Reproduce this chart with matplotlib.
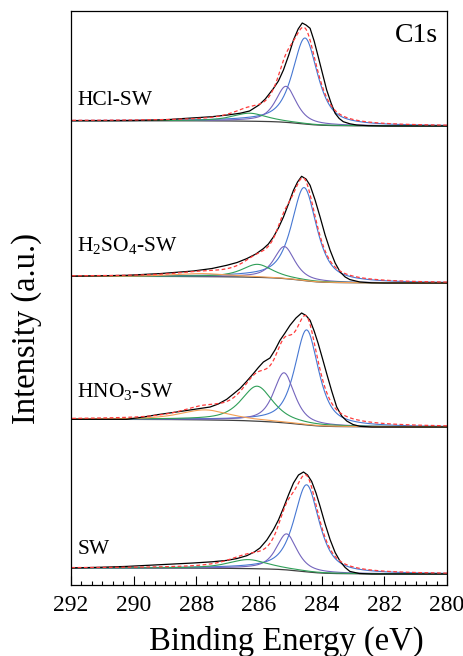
import numpy as np
import matplotlib
matplotlib.use('Agg')
import matplotlib.pyplot as plt
from matplotlib.ticker import MultipleLocator

plt.rcParams['font.family'] = ['Liberation Serif', 'DejaVu Serif']
plt.rcParams['mathtext.fontset'] = 'custom'
plt.rcParams['mathtext.rm'] = 'Liberation Serif'

#=============================================================
# C1s spectra (measured), intensity above the low-BE baseline
hcl_be = [292.0, 291.0, 290.0, 289.0, 288.5, 288.0, 287.5, 287.0, 286.6, 286.3,
          286.0, 285.8, 285.54, 285.38, 285.22, 285.05, 284.9, 284.75, 284.62, 284.5,
          284.37, 284.24, 284.11, 283.97, 283.84, 283.7, 283.57, 283.44, 283.31, 283.1,
          282.88, 282.5, 282.0, 281.0, 280.0]
hcl_counts = [5.3, 5.3, 5.5, 6.2, 7.3, 8.3, 9.3, 11.0, 12.8, 15.0,
              21.0, 27.0, 37.5, 45.0, 56.0, 71.0, 86.0, 97.0, 103.0, 101.0,
              97.7, 85.0, 69.3, 52.0, 36.0, 23.0, 12.7, 7.5, 4.3, 2.2,
              1.0, 0.3, 0.0, 0.0, 0.0]

h2so4_be = [292.0, 291.0, 290.22, 289.16, 288.1, 287.5, 287.03, 286.7, 286.39, 286.1,
            285.86, 285.7, 285.54, 285.38, 285.22, 285.06, 284.9, 284.77, 284.64, 284.5,
            284.37, 284.21, 284.05, 283.89, 283.73, 283.57, 283.41, 283.25, 283.1, 282.78,
            282.4, 282.0, 281.0, 280.0]
h2so4_counts = [6.7, 7.2, 7.7, 9.4, 12.0, 14.5, 17.7, 20.5, 24.4, 29.0,
                34.4, 39.0, 46.0, 55.0, 66.0, 79.0, 92.7, 101.0, 106.7, 104.0,
                97.7, 83.0, 66.0, 48.0, 32.7, 20.0, 11.0, 6.0, 3.4, 1.0,
                0.2, 0.0, 0.0, 0.0]

hno3_be = [292.0, 291.0, 290.22, 289.69, 289.2, 288.63, 288.1, 287.56, 287.3, 287.03,
           286.82, 286.61, 286.4, 286.18, 286.02, 285.86, 285.65, 285.49, 285.33, 285.17,
           285.01, 284.82, 284.64, 284.5, 284.37, 284.24, 284.11, 283.97, 283.84, 283.68,
           283.52, 283.36, 283.2, 283.0, 282.78, 282.4, 281.0, 280.0]
hno3_counts = [7.7, 7.7, 7.7, 10.0, 12.5, 15.0, 17.5, 20.0, 23.0, 27.7,
               33.0, 38.4, 45.5, 53.4, 59.5, 65.0, 69.0, 77.0, 86.7, 94.0,
               101.7, 109.0, 114.0, 111.5, 106.7, 96.0, 83.4, 68.0, 53.4, 36.0,
               20.0, 11.0, 6.0, 2.5, 0.7, 0.0, 0.0, 0.0]

sw_be = [292.0, 291.0, 290.22, 289.16, 288.1, 287.5, 287.03, 286.7, 286.39, 286.15,
         285.97, 285.75, 285.54, 285.38, 285.22, 285.06, 284.9, 284.74, 284.58, 284.45,
         284.32, 284.18, 284.05, 283.89, 283.73, 283.57, 283.41, 283.25, 283.1, 282.8,
         282.4, 281.0, 280.0]
sw_counts = [6.0, 6.8, 7.6, 9.3, 11.0, 12.2, 13.6, 15.5, 18.3, 22.0,
             26.0, 34.0, 44.3, 54.0, 66.0, 79.0, 91.0, 99.0, 102.0, 99.0,
             92.6, 81.0, 67.6, 50.0, 34.3, 21.5, 12.6, 6.5, 2.6, 0.5,
             0.0, 0.0, 0.0]

# fitted components: sp2 C=C, sp3 C-C, C-O, C=O
hcl_pos = [284.53, 285.14, 286.30]
hcl_fwhm = [0.95, 0.78, 1.30]
hcl_height = [86, 36, 8]

h2so4_pos = [284.56, 285.19, 286.05, 287.80]
h2so4_fwhm = [0.95, 0.78, 1.15, 2.00]
h2so4_height = [93, 32, 13, 3]

hno3_pos = [284.48, 285.20, 286.06, 287.72]
hno3_fwhm = [0.90, 0.80, 1.20, 1.90]
hno3_height = [95, 50, 35, 10]

sw_pos = [284.48, 285.12, 286.34]
sw_fwhm = [0.95, 0.78, 1.50]
sw_height = [87, 36, 9]

# Shirley background step (high-BE side), vertical offsets of the stack
bg_step = [5.3, 6.7, 7.7, 6.0]
offsets = [459, 302, 158, 11]
labels = ['HCl-SW', r'H$_\mathregular{2}$SO$_\mathregular{4}$-SW',
          r'HNO$_\mathregular{3}$-SW', 'SW']
label_y = [16, 26, 24, 15]
eta = 0.7   # lorentzian fraction

peak_colors = ['#4677d2', '#7465bd', '#2f9f58', '#f4a055']

#=============================================================
def pvoigt(x, c, w, h, eta):
    """pseudo-Voigt: centro c, FWHM w, altura h"""
    u = 4*((x - c)/w)**2
    return h*(eta/(1 + u) + (1 - eta)*np.exp(-np.log(2)*u))

def shirley(x, total, step):
    """fondo de Shirley a partir de la suma de picos (x creciente)"""
    area = np.concatenate(([0], np.cumsum(0.5*(total[1:] + total[:-1])*np.diff(x))))
    return step*area/area[-1]

#=============================================================
x = np.linspace(280, 292, 1201)
spectra = [(hcl_be, hcl_counts), (h2so4_be, h2so4_counts),
           (hno3_be, hno3_counts), (sw_be, sw_counts)]
fits = [(hcl_pos, hcl_fwhm, hcl_height), (h2so4_pos, h2so4_fwhm, h2so4_height),
        (hno3_pos, hno3_fwhm, hno3_height), (sw_pos, sw_fwhm, sw_height)]

fig = plt.figure(figsize=(4.64, 6.56), dpi=100)
ax = fig.add_axes([71/464, 71/656, 376/464, 574/656])

for i in range(4):
    pos, fwhm, height = fits[i]
    peaks = [pvoigt(x, pos[k], fwhm[k], height[k], eta) for k in range(len(pos))]
    bg = shirley(x, np.sum(peaks, axis=0), bg_step[i])
    off = offsets[i]
    ax.plot(x, bg + off, color='#404040', lw=0.9)
    for k in range(len(peaks)):
        ax.plot(x, peaks[k] + bg + off, color=peak_colors[k], lw=0.8)
    be, counts = spectra[i]
    ax.plot(be, np.array(counts) + off, color='black', lw=0.9)
    ax.plot(x, np.sum(peaks, axis=0) + bg + off, color='#ff3b3b', lw=0.9,
            ls=(0, (3, 2)))
    ax.text(291.8, off + label_y[i], labels[i], fontsize=15.5,
            ha='left', va='bottom')

ax.text(0.976, 0.958, 'C1s', transform=ax.transAxes, fontsize=20,
        ha='right', va='center')

ax.set_xlim(292, 280)
ax.set_ylim(0, 574)
ax.xaxis.set_major_locator(MultipleLocator(2))
ax.xaxis.set_minor_locator(MultipleLocator(1/3))
ax.tick_params(axis='x', which='major', direction='in', length=6.5, width=0.8,
               labelsize=17, pad=7)
ax.tick_params(axis='x', which='minor', direction='in', length=3.2, width=0.8)
ax.set_yticks([])
for s in ax.spines.values():
    s.set_linewidth(0.9)

fig.text(286/464, 1 - 641/656, 'Binding Energy (eV)', fontsize=23.5,
         ha='center', va='center')
fig.text(27/464, 1 - 328/656, 'Intensity (a.u.)', fontsize=23.5,
         rotation=90, ha='center', va='center')

fig.savefig('out.png', dpi=100)
